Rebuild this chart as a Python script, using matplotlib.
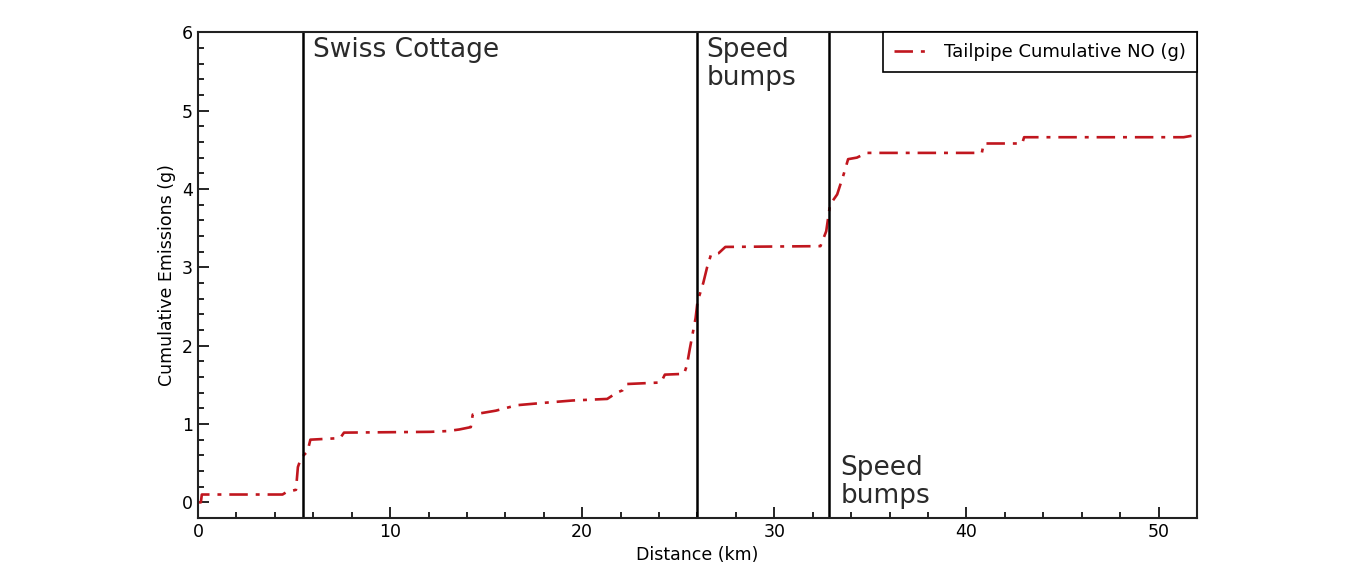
import matplotlib
matplotlib.use("Agg")
import matplotlib.pyplot as plt
from matplotlib.ticker import MultipleLocator

# Data
distance_km = [0.0, 0.15, 0.2, 4.4, 4.6, 5.1, 5.2, 5.3, 5.5, 5.7, 5.85, 7.4, 7.6,
               12.1, 13.0, 13.6, 14.2, 14.3, 15.5, 16.6, 18.0, 19.5, 21.3, 21.8,
               22.1, 22.3, 24.1, 24.3, 25.3, 25.45, 25.6, 25.9, 26.0, 26.3, 26.5,
               26.7, 27.1, 27.45, 32.4, 32.7, 32.9, 33.27, 33.6, 33.84, 34.3, 34.8,
               40.8, 40.9, 42.9, 43.0, 51.3, 52.0]
cumulative_no_g = [0.0, 0.0, 0.1, 0.1, 0.13, 0.16, 0.45, 0.52, 0.6, 0.65, 0.8, 0.82, 0.89,
                   0.9, 0.91, 0.93, 0.96, 1.12, 1.17, 1.24, 1.27, 1.3, 1.32, 1.4,
                   1.43, 1.51, 1.53, 1.63, 1.64, 1.75, 1.96, 2.35, 2.56, 2.8, 3.0,
                   3.16, 3.18, 3.26, 3.27, 3.46, 3.8, 3.93, 4.18, 4.38, 4.4, 4.46,
                   4.46, 4.58, 4.58, 4.66, 4.66, 4.69]
boundaries_km = [5.47, 26.0, 32.86]
labels = ["Swiss Cottage", "Speed\nbumps", "Speed\nbumps"]
label_pos = [(6.0, 6.0), (26.45, 6.0), (33.45, 0.66)]

plt.rcParams['font.family'] = ['DejaVu Sans']
fig = plt.figure(figsize=(13.57, 5.86), dpi=100)
ax = fig.add_axes([0.1459, 0.116, 0.7362, 0.829])

ax.plot(distance_km, cumulative_no_g, color='#c0161e', linewidth=1.9,
        dashes=(7, 3, 1.5, 3), label='Tailpipe Cumulative NO (g)')
for b in boundaries_km:
    ax.axvline(b, color='black', linewidth=1.8)

for (x, y), t in zip(label_pos, labels):
    ax.text(x, y - 0.06, t, fontsize=19, color='#2a2a2a', va='top', ha='left',
            linespacing=1.1)

ax.set_xlim(0, 52)
ax.set_ylim(-0.2, 6)
ax.xaxis.set_major_locator(MultipleLocator(10))
ax.xaxis.set_minor_locator(MultipleLocator(2))
ax.yaxis.set_major_locator(MultipleLocator(1))
ax.yaxis.set_minor_locator(MultipleLocator(0.2))
ax.tick_params(which='both', direction='in', top=False, right=False, width=1.2)
ax.tick_params(which='major', length=8, labelsize=12.5)
ax.tick_params(which='minor', length=4)
for s in ax.spines.values():
    s.set_linewidth(1.5)
    s.set_color('#222222')

ax.set_xlabel('Distance (km)', fontsize=12.5)
ax.set_ylabel('Cumulative Emissions (g)', fontsize=12.5)

leg = ax.legend(loc='upper right', fontsize=13, fancybox=False, framealpha=1,
                edgecolor='black', borderaxespad=0, handlelength=2.0,
                borderpad=0.6)
leg.get_frame().set_linewidth(1.2)

fig.savefig('out.png', dpi=100)
